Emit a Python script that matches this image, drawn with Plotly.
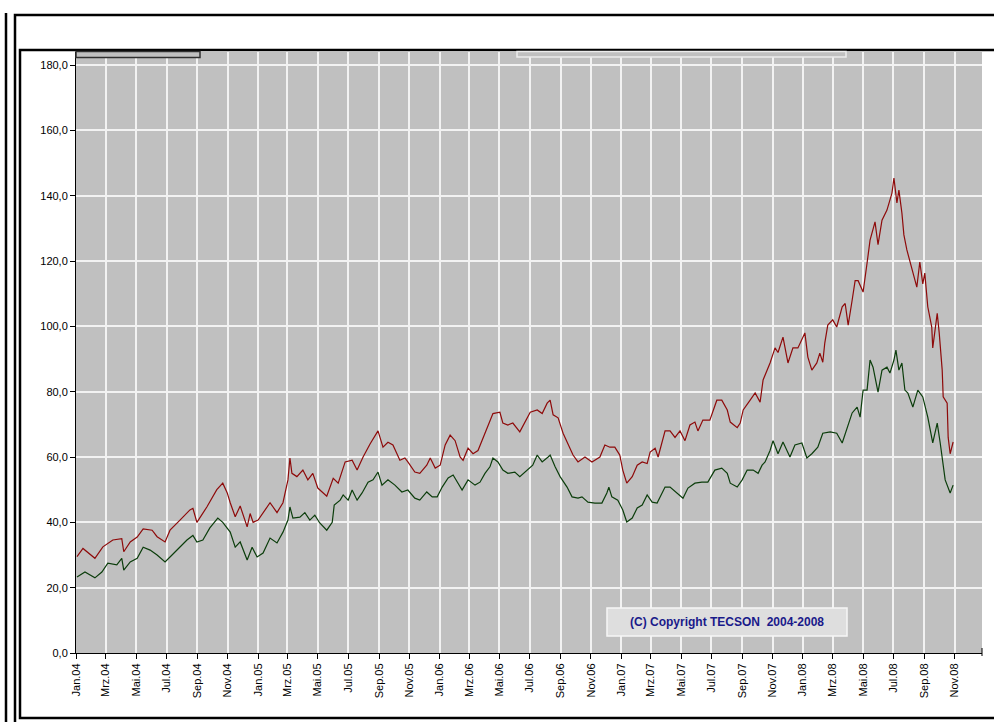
import plotly.graph_objects as go

# ---------------- data ----------------
usd_dates = [
    "2004-01-03", "2004-01-15", "2004-02-08", "2004-02-24", "2004-03-15", "2004-04-02", "2004-04-06",
    "2004-04-19", "2004-05-03", "2004-05-15", "2004-06-02", "2004-06-12", "2004-06-28", "2004-07-08",
    "2004-07-28", "2004-08-17", "2004-08-23", "2004-08-31", "2004-09-20", "2004-10-10", "2004-10-22",
    "2004-10-31", "2004-11-06", "2004-11-16", "2004-11-26", "2004-12-10", "2004-12-16", "2004-12-22",
    "2005-01-01", "2005-01-11", "2005-01-25", "2005-02-08", "2005-02-20", "2005-03-02", "2005-03-06",
    "2005-03-10", "2005-03-20", "2005-04-01", "2005-04-11", "2005-04-21", "2005-05-01", "2005-05-19",
    "2005-06-01", "2005-06-11", "2005-06-25", "2005-07-09", "2005-07-19", "2005-07-31", "2005-08-14",
    "2005-08-30", "2005-09-09", "2005-09-19", "2005-09-29", "2005-10-13", "2005-10-23", "2005-10-29",
    "2005-11-12", "2005-11-22", "2005-12-06", "2005-12-13", "2005-12-23", "2006-01-02", "2006-01-12",
    "2006-01-22", "2006-02-01", "2006-02-11", "2006-02-17", "2006-02-27", "2006-03-09", "2006-03-19",
    "2006-03-29", "2006-04-08", "2006-04-18", "2006-05-02", "2006-05-08", "2006-05-18", "2006-05-28",
    "2006-06-11", "2006-06-21", "2006-07-02", "2006-07-16", "2006-07-26", "2006-08-05", "2006-08-11",
    "2006-08-17", "2006-08-27", "2006-09-06", "2006-09-16", "2006-09-26", "2006-10-06", "2006-10-20",
    "2006-11-03", "2006-11-19", "2006-11-29", "2006-12-09", "2006-12-19", "2006-12-29", "2007-01-04",
    "2007-01-12", "2007-01-23", "2007-02-02", "2007-02-12", "2007-02-22", "2007-02-28", "2007-03-10",
    "2007-03-16", "2007-03-30", "2007-04-09", "2007-04-19", "2007-04-29", "2007-05-09", "2007-05-19",
    "2007-05-29", "2007-06-04", "2007-06-14", "2007-06-28", "2007-07-12", "2007-07-22", "2007-08-02",
    "2007-08-08", "2007-08-22", "2007-08-28", "2007-09-03", "2007-09-17", "2007-09-27", "2007-10-07",
    "2007-10-13", "2007-10-27", "2007-11-06", "2007-11-12", "2007-11-22", "2007-12-02", "2007-12-12",
    "2007-12-22", "2008-01-05", "2008-01-11", "2008-01-19", "2008-01-29", "2008-02-04", "2008-02-10",
    "2008-02-14", "2008-02-20", "2008-03-01", "2008-03-09", "2008-03-20", "2008-03-26", "2008-04-01",
    "2008-04-09", "2008-04-15", "2008-04-21", "2008-05-01", "2008-05-09", "2008-05-15", "2008-05-25",
    "2008-05-31", "2008-06-08", "2008-06-18", "2008-06-28", "2008-07-02", "2008-07-08", "2008-07-12",
    "2008-07-18", "2008-07-22", "2008-07-28", "2008-08-03", "2008-08-09", "2008-08-17", "2008-08-23",
    "2008-08-29", "2008-09-02", "2008-09-08", "2008-09-16", "2008-09-18", "2008-09-27", "2008-10-01",
    "2008-10-07", "2008-10-09", "2008-10-17", "2008-10-19", "2008-10-23", "2008-10-29",
]
usd_values = [
    29.5, 32.0, 29.0, 32.5, 34.6, 35.0, 31.0,
    34.0, 35.5, 38.0, 37.6, 35.6, 34.0, 37.6,
    40.7, 43.8, 44.3, 40.0, 44.7, 50.0, 52.0,
    49.0, 46.0, 41.7, 45.0, 38.6, 42.7, 40.0,
    40.7, 43.0, 46.0, 43.0, 46.0, 53.0, 59.7,
    55.0, 54.0, 56.0, 53.0, 55.0, 50.5, 48.0,
    53.5, 52.0, 58.5, 59.0, 56.0, 60.0, 64.0,
    68.0, 63.0, 64.5, 63.7, 59.0, 59.7, 58.5,
    55.4, 55.0, 57.5, 59.7, 56.6, 57.5, 63.7,
    66.7, 65.0, 60.0, 59.0, 62.7, 61.0, 62.0,
    65.7, 69.0, 73.3, 73.7, 70.4, 69.8, 70.4,
    67.7, 70.4, 73.7, 74.4, 73.3, 76.5, 77.4,
    72.9, 72.0, 67.3, 63.7, 60.6, 58.5, 60.0,
    58.5, 60.0, 63.7, 63.0, 63.0, 60.6, 56.0,
    52.0, 54.0, 57.5, 58.5, 58.0, 61.5, 62.7,
    60.0, 68.0, 68.0, 66.0, 68.0, 65.0, 69.8,
    70.7, 68.0, 71.3, 71.3, 77.4, 77.4, 74.4,
    70.7, 69.0, 70.4, 74.4, 77.4, 79.6, 76.8,
    83.6, 88.8, 93.4, 92.0, 96.7, 88.8, 93.4,
    93.4, 98.0, 90.6, 86.6, 88.8, 91.8, 89.0,
    94.9, 100.4, 102.0, 99.8, 106.0, 107.0, 100.4,
    108.0, 114.0, 114.0, 110.5, 119.4, 126.4, 132.0,
    125.0, 132.5, 135.6, 140.8, 145.4, 137.8, 141.7,
    134.7, 128.0, 123.4, 119.7, 116.3, 112.0, 119.7,
    113.0, 116.3, 106.0, 99.8, 93.4, 104.0, 98.0,
    86.6, 78.4, 76.5, 66.0, 61.0, 64.6,
]

eur_dates = [
    "2004-01-03", "2004-01-19", "2004-02-08", "2004-02-22", "2004-03-05", "2004-03-23", "2004-04-02",
    "2004-04-06", "2004-04-19", "2004-05-03", "2004-05-15", "2004-05-29", "2004-06-12", "2004-06-28",
    "2004-07-12", "2004-07-28", "2004-08-11", "2004-08-23", "2004-08-31", "2004-09-12", "2004-09-26",
    "2004-10-12", "2004-10-22", "2004-11-06", "2004-11-16", "2004-11-26", "2004-12-10", "2004-12-20",
    "2004-12-30", "2005-01-11", "2005-01-25", "2005-02-08", "2005-02-20", "2005-03-02", "2005-03-06",
    "2005-03-12", "2005-03-26", "2005-04-05", "2005-04-15", "2005-04-25", "2005-05-05", "2005-05-19",
    "2005-05-30", "2005-06-03", "2005-06-15", "2005-06-21", "2005-07-01", "2005-07-09", "2005-07-19",
    "2005-07-29", "2005-08-10", "2005-08-20", "2005-08-30", "2005-09-07", "2005-09-19", "2005-10-03",
    "2005-10-17", "2005-10-29", "2005-11-12", "2005-11-22", "2005-12-06", "2005-12-17", "2005-12-27",
    "2006-01-06", "2006-01-18", "2006-01-28", "2006-02-05", "2006-02-15", "2006-02-27", "2006-03-13",
    "2006-03-23", "2006-04-02", "2006-04-12", "2006-04-18", "2006-04-28", "2006-05-08", "2006-05-18",
    "2006-06-01", "2006-06-11", "2006-06-25", "2006-07-07", "2006-07-16", "2006-07-26", "2006-08-07",
    "2006-08-11", "2006-08-21", "2006-08-31", "2006-09-14", "2006-09-24", "2006-10-06", "2006-10-14",
    "2006-10-26", "2006-11-09", "2006-11-23", "2006-12-03", "2006-12-07", "2006-12-13", "2006-12-25",
    "2007-01-04", "2007-01-12", "2007-01-23", "2007-02-02", "2007-02-12", "2007-02-22", "2007-03-04",
    "2007-03-14", "2007-03-30", "2007-04-09", "2007-04-23", "2007-05-05", "2007-05-15", "2007-05-29",
    "2007-06-12", "2007-06-24", "2007-07-08", "2007-07-22", "2007-08-02", "2007-08-08", "2007-08-22",
    "2007-09-01", "2007-09-11", "2007-09-23", "2007-10-03", "2007-10-11", "2007-10-17", "2007-10-27",
    "2007-11-02", "2007-11-12", "2007-11-22", "2007-12-06", "2007-12-16", "2007-12-30", "2008-01-09",
    "2008-01-19", "2008-01-31", "2008-02-10", "2008-02-25", "2008-03-09", "2008-03-20", "2008-03-30",
    "2008-04-09", "2008-04-19", "2008-04-25", "2008-05-01", "2008-05-09", "2008-05-15", "2008-05-21",
    "2008-05-31", "2008-06-08", "2008-06-18", "2008-06-24", "2008-07-02", "2008-07-06", "2008-07-12",
    "2008-07-18", "2008-07-24", "2008-07-30", "2008-08-09", "2008-08-19", "2008-08-29", "2008-09-08",
    "2008-09-18", "2008-09-27", "2008-10-03", "2008-10-09", "2008-10-13", "2008-10-23", "2008-10-29",
]
eur_values = [
    23.3, 24.8, 23.0, 24.8, 27.5, 27.0, 29.0,
    25.4, 27.9, 29.0, 32.4, 31.5, 30.0, 27.9,
    30.0, 32.4, 34.6, 36.0, 34.0, 34.6, 38.3,
    41.3, 40.0, 37.0, 32.4, 34.0, 28.5, 32.4,
    29.4, 30.6, 35.2, 33.7, 37.0, 40.7, 44.7,
    41.3, 41.6, 43.0, 40.7, 42.2, 39.8, 37.6,
    40.0, 45.3, 46.8, 48.4, 46.8, 49.9, 46.8,
    49.0, 52.3, 53.0, 55.4, 51.4, 53.0, 51.4,
    49.3, 49.9, 47.4, 46.8, 49.3, 47.8, 47.8,
    50.8, 53.6, 54.5, 52.3, 49.9, 53.0, 51.4,
    52.3, 55.0, 57.0, 59.7, 58.5, 56.0, 55.0,
    55.4, 54.0, 56.0, 57.5, 60.6, 58.5, 60.0,
    60.6, 57.0, 54.0, 50.8, 47.8, 47.4, 47.8,
    46.2, 45.9, 45.9, 49.0, 50.8, 47.8, 46.8,
    43.8, 40.1, 41.3, 44.4, 45.3, 48.4, 46.2,
    45.9, 50.8, 50.8, 49.0, 47.4, 50.5, 52.0,
    52.3, 52.3, 56.0, 56.6, 55.0, 52.0, 50.8,
    53.0, 56.0, 56.0, 55.0, 57.5, 58.5, 62.0,
    65.0, 61.0, 64.6, 60.0, 63.7, 64.3, 59.7,
    61.0, 63.0, 67.3, 67.7, 67.3, 64.3, 69.2,
    73.5, 75.3, 72.2, 80.5, 80.5, 89.7, 87.5,
    79.9, 86.6, 87.5, 85.7, 89.7, 92.7, 86.6,
    88.8, 80.5, 79.6, 75.3, 80.5, 78.4, 72.2,
    64.3, 70.4, 64.3, 57.0, 53.0, 49.0, 51.4,
]

tick_dates = [
    "2004-01-01", "2004-03-01", "2004-05-01", "2004-07-01", "2004-09-01", "2004-11-01",
    "2005-01-01", "2005-03-01", "2005-05-01", "2005-07-01", "2005-09-01", "2005-11-01",
    "2006-01-01", "2006-03-01", "2006-05-01", "2006-07-01", "2006-09-01", "2006-11-01",
    "2007-01-01", "2007-03-01", "2007-05-01", "2007-07-01", "2007-09-01", "2007-11-01",
    "2008-01-01", "2008-03-01", "2008-05-01", "2008-07-01", "2008-09-01", "2008-11-01",
]
tick_labels = [
    "Jan.04", "Mrz.04", "Mai.04", "Jul.04", "Sep.04", "Nov.04",
    "Jan.05", "Mrz.05", "Mai.05", "Jul.05", "Sep.05", "Nov.05",
    "Jan.06", "Mrz.06", "Mai.06", "Jul.06", "Sep.06", "Nov.06",
    "Jan.07", "Mrz.07", "Mai.07", "Jul.07", "Sep.07", "Nov.07",
    "Jan.08", "Mrz.08", "Mai.08", "Jul.08", "Sep.08", "Nov.08",
]
y_ticks = [0, 20, 40, 60, 80, 100, 120, 140, 160, 180]
copyright_text = "(C) Copyright TECSON\u00a0\u00a02004-2008"

# ---------------- figure ----------------
W, H = 994, 722
L, R, T, B = 76, 12, 52, 69
PW, PH = W - L - R, H - T - B


def px(x):
    return (x - L) / PW


def py(y):
    return (H - B - y) / PH


fig = go.Figure()
fig.add_trace(go.Scatter(x=usd_dates, y=usd_values, mode="lines",
                         line=dict(color="#8e0a0a", width=1.2), hoverinfo="x+y"))
fig.add_trace(go.Scatter(x=eur_dates, y=eur_values, mode="lines",
                         line=dict(color="#0b3d0b", width=1.2), hoverinfo="x+y"))

font = dict(family="Liberation Sans, Arial, sans-serif", size=11, color="#000000")

fig.update_layout(
    width=W, height=H,
    margin=dict(l=L, r=R, t=T, b=B, pad=0),
    paper_bgcolor="#ffffff",
    plot_bgcolor="#c0c0c0",
    showlegend=False,
    separators=",.",
    font=font,
    xaxis=dict(
        type="date", range=["2004-01-01", "2008-12-26"],
        tickvals=tick_dates, ticktext=tick_labels, tickangle=-90,
        showgrid=True, gridcolor="#f2f2f2", gridwidth=1.5,
        showline=True, linecolor="#000000", linewidth=1,
        ticks="outside", ticklen=5, tickcolor="#000000",
        zeroline=False, tickfont=font,
    ),
    yaxis=dict(
        range=[0, 184], tickvals=y_ticks, tickformat=".1f",
        showgrid=True, gridcolor="#f2f2f2", gridwidth=1.5,
        showline=True, linecolor="#000000", linewidth=1,
        ticks="outside", ticklen=5, tickcolor="#000000",
        zeroline=False, tickfont=font,
    ),
)

shapes = []
# outer frames
shapes.append(dict(type="line", xref="paper", yref="paper",
                   x0=px(6), x1=px(6), y0=py(13), y1=py(730),
                   line=dict(color="#000000", width=2.5), layer="above"))
shapes.append(dict(type="rect", xref="paper", yref="paper",
                   x0=px(15), x1=px(1010), y0=py(15), y1=py(740),
                   line=dict(color="#000000", width=2.5), layer="above"))
shapes.append(dict(type="rect", xref="paper", yref="paper",
                   x0=px(20), x1=px(1010), y0=py(50), y1=py(718),
                   line=dict(color="#000000", width=2.5), layer="above"))
# clipped legend boxes at the top
shapes.append(dict(type="rect", xref="paper", yref="paper",
                   x0=px(76), x1=px(200), y0=py(51.5), y1=py(57.5),
                   fillcolor="#c0c0c0", line=dict(color="#303030", width=1.5), layer="above"))
shapes.append(dict(type="rect", xref="paper", yref="paper",
                   x0=px(517), x1=px(846), y0=py(51.5), y1=py(57),
                   fillcolor="#c0c0c0", line=dict(color="#ececec", width=1.5), layer="above"))
# end tick of x axis
shapes.append(dict(type="line", xref="paper", yref="paper",
                   x0=px(982), x1=px(982), y0=py(648), y1=py(656),
                   line=dict(color="#000000", width=1), layer="above"))
# copyright box
shapes.append(dict(type="rect", xref="paper", yref="paper",
                   x0=px(607), x1=px(847), y0=py(608), y1=py(636),
                   fillcolor="#dedede", line=dict(color="#f6f6f6", width=1.5), layer="above"))
fig.update_layout(shapes=shapes)

fig.add_annotation(xref="paper", yref="paper", x=px(727), y=py(622),
                   text=copyright_text, showarrow=False,
                   font=dict(family="Liberation Sans, Arial, sans-serif", size=12,
                             color="#1a1a8a", weight="bold"),
                   xanchor="center", yanchor="middle")

fig.write_html("out.html",
               config={"displayModeBar": False},
               post_script="document.body.style.margin='0';document.body.style.overflow='hidden';")
